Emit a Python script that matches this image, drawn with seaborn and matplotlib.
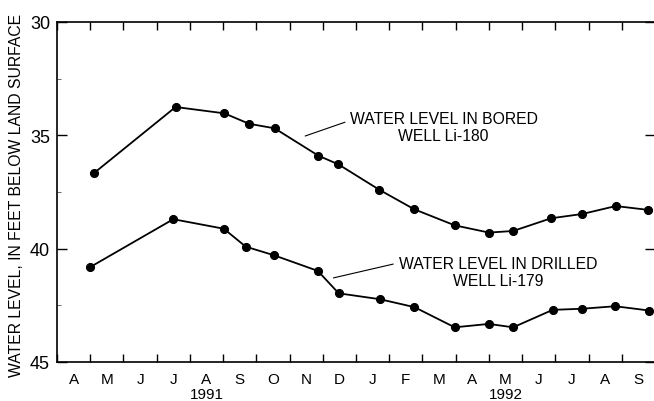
import numpy as np
import pandas as pd
import seaborn as sns
import matplotlib
matplotlib.use("Agg")
import matplotlib.pyplot as plt
from matplotlib.ticker import FixedLocator, NullFormatter

# Time axis: months elapsed since April 1, 1991
month_labels = ["A", "M", "J", "J", "A", "S", "O", "N", "D",
                "J", "F", "M", "A", "M", "J", "J", "A", "S"]
year_labels = ["1991", "1992"]
year_label_months = [4.5, 13.5]

# Bored well Li-180
bored_t = [1.11, 3.57, 5.04, 5.78, 6.55, 7.87, 8.47, 9.70, 10.75,
           11.97, 13.00, 13.73, 14.87, 15.81, 16.82, 17.80]
bored_level = [36.67, 33.75, 34.03, 34.49, 34.69, 35.90, 36.28, 37.40, 38.26,
               38.97, 39.29, 39.22, 38.66, 38.47, 38.12, 38.29]

# Drilled well Li-179
drilled_t = [0.99, 3.50, 5.02, 5.68, 6.53, 7.85, 8.48, 9.72, 10.76,
             11.97, 13.00, 13.73, 14.92, 15.81, 16.80, 17.83]
drilled_level = [40.82, 38.70, 39.12, 39.91, 40.29, 40.98, 41.97, 42.23, 42.58,
                 43.47, 43.32, 43.47, 42.70, 42.65, 42.54, 42.73]

df = pd.concat([
    pd.DataFrame({"t": bored_t, "level": bored_level, "well": "Li-180"}),
    pd.DataFrame({"t": drilled_t, "level": drilled_level, "well": "Li-179"}),
], ignore_index=True)

sns.set_theme(style="ticks")
plt.rcParams["font.family"] = ["Liberation Sans", "DejaVu Sans"]

fig = plt.figure(figsize=(6.54, 4.02), dpi=100)
ax = fig.add_axes([57 / 654, 1 - 363 / 402, 598 / 654, 340 / 402])

sns.lineplot(data=df, x="t", y="level", units="well", estimator=None,
             color="black", linewidth=1.3, marker="o", markersize=5.8,
             markeredgecolor="black", markerfacecolor="black", ax=ax,
             legend=False)

ax.set_xlim(0, 18)
ax.set_ylim(45, 30)

# month boundaries as ticks, month initials centered between them
ax.xaxis.set_major_locator(FixedLocator(np.arange(0, 19)))
ax.xaxis.set_major_formatter(NullFormatter())
ax.xaxis.set_minor_locator(FixedLocator(np.arange(18) + 0.5))
ax.set_xticklabels(month_labels, minor=True)
ax.tick_params(axis="x", which="major", direction="in", length=6,
               width=1.0, top=True, bottom=True, color="black")
ax.tick_params(axis="x", which="minor", length=0, pad=7,
               labelsize=11, labelcolor="black")

ax.set_yticks([30, 35, 40, 45])
ax.yaxis.set_minor_locator(FixedLocator([32.5, 37.5, 42.5]))
ax.tick_params(axis="y", which="major", direction="in", length=7, width=1.0,
               left=True, right=True, labelsize=13, pad=5,
               color="black", labelcolor="black")
ax.tick_params(axis="y", which="minor", direction="in", length=3, width=0.6,
               left=True, right=False, color="#555555")

for side in ["left", "bottom", "top"]:
    ax.spines[side].set_visible(True)
    ax.spines[side].set_linewidth(1.2)
    ax.spines[side].set_color("black")
ax.spines["right"].set_visible(False)

ax.set_xlabel("")
ax.set_ylabel("WATER LEVEL, IN FEET BELOW LAND SURFACE", fontsize=11.3,
              color="black")
ax.yaxis.set_label_coords(-33 / 598, 0.492)

for lab, m in zip(year_labels, year_label_months):
    ax.annotate(lab, xy=(m, 0), xycoords=("data", "axes fraction"),
                xytext=(0, -32), textcoords="offset pixels",
                ha="center", va="center", fontsize=11, color="black")

# well labels with leader lines
ax.annotate("", xy=(7.47, 35.03), xytext=(8.67, 34.42),
            arrowprops=dict(arrowstyle="-", color="black", lw=0.8,
                            shrinkA=0, shrinkB=0))
ax.text(11.64, 34.63, "WATER LEVEL IN BORED\nWELL Li-180", ha="center",
        va="center", fontsize=11.3, linespacing=1.1, color="black")

ax.annotate("", xy=(8.32, 41.29), xytext=(10.12, 40.68),
            arrowprops=dict(arrowstyle="-", color="black", lw=0.8,
                            shrinkA=0, shrinkB=0))
ax.text(13.28, 41.03, "WATER LEVEL IN DRILLED\nWELL Li-179", ha="center",
        va="center", fontsize=11.3, linespacing=1.1, color="black")

fig.savefig("out.png", dpi=100)
